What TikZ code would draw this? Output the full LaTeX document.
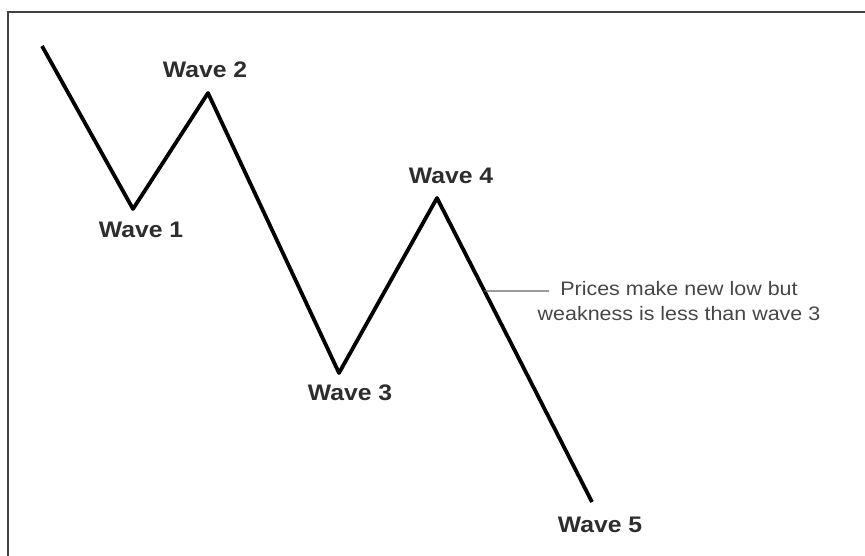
\documentclass[tikz,border=0pt]{standalone}
\usepackage{fontspec}
\setmainfont{Liberation Sans}[FakeStretch=1.1]
\usetikzlibrary{calc}
\definecolor{cText}{RGB}{45,45,45}
\definecolor{cNote}{RGB}{70,70,70}

\begin{document}
\begin{tikzpicture}[x=1pt, y=-1pt,
    wave/.style={font=\fontsize{22.5}{26}\selectfont\bfseries, text=cText, inner sep=0pt},
    note/.style={font=\fontsize{19.5}{25}\selectfont, text=cNote, align=center, inner sep=0pt}]
				\useasboundingbox (0,0) rectangle (865,556);
				\draw[line width=2.5pt, black!75] (8,556) -- (8,12) -- (865,12);
				% turning points
				\foreach \n/\x/\y in {0/42/46, 1/133/209, 2/208/93, 3/339/373, 4/437/198, 5/592/502}
				\coordinate (w\n) at (\x,\y);
				\draw[line width=3.8pt, line join=round] (w0) -- (w1) -- (w2) -- (w3) -- (w4) -- (w5);
				\foreach \n/\x/\y in {1/141/230, 2/205/70, 3/350/393, 4/451/176, 5/600/525}
				\node[wave] (lab\n) at (\x,\y) {Wave \n};
				\node[note] (note) at (679,301) {Prices make new low but\\weakness is less than wave 3};
				\coordinate (tip) at ($(w4)!0.306!(w5)$);
				\coordinate (lend) at (549,291);
				\draw[line width=1.2pt, black!60] (tip) -- (lend);
			\end{tikzpicture}
\end{document}
